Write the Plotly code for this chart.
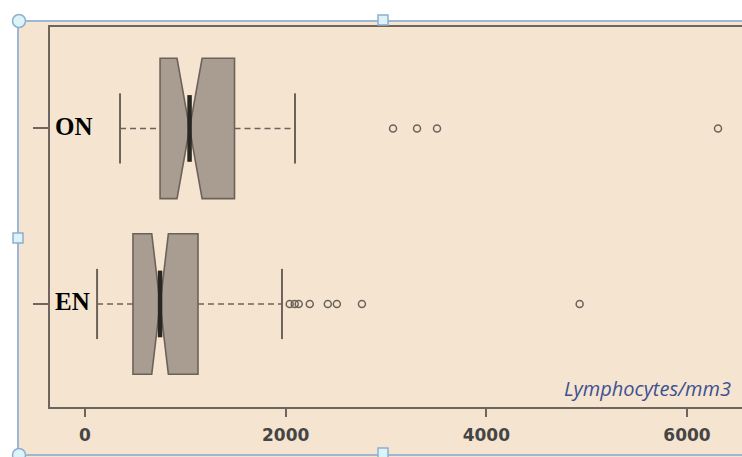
import plotly.graph_objects as go

# ---- data (Lymphocytes/mm3) ----
groups = ["EN", "ON"]
positions = [0, 1]
lower_whisker = [120, 349]
q1 = [478, 748]
median = [748, 1042]
q3 = [1126, 1490]
upper_whisker = [1963, 2093]
notch_span = [83, 125]
outliers_en = [2040, 2090, 2130, 2240, 2420, 2510, 2760, 4930]
outliers_on = [3070, 3309, 3508, 6309]
outliers = [outliers_en, outliers_on]
x_ticks = [0, 2000, 4000, 6000]
axis_title = "Lymphocytes/mm3"

PAGE_W, PAGE_H = 742, 457
W, H = PAGE_W, PAGE_H
PLOT_L, PLOT_T, PLOT_B = 50, 27, 407          # page pixels of plot area
L, T, B, R = PLOT_L, PLOT_T, PAGE_H - PLOT_B, 0
BOX_W = 0.8

PEACH = "#F5E4D0"
FILL = "#A99D91"
EDGE = "#6B635B"
AXIS = "#6E665E"

fig = go.Figure()

for i, g in enumerate(groups):
    p = positions[i]
    # notched box (whiskers drawn separately so they can be dashed)
    fig.add_trace(go.Box(
        y=[p], q1=[q1[i]], median=[median[i]], q3=[q3[i]],
        lowerfence=[q1[i]], upperfence=[q3[i]], notchspan=[notch_span[i]],
        orientation="h", notched=True, notchwidth=0.5, width=BOX_W,
        whiskerwidth=0, boxpoints=False,
        fillcolor=FILL, line=dict(color=EDGE, width=1.6),
        showlegend=False, hoverinfo="skip",
    ))
    # dashed whiskers
    fig.add_trace(go.Scatter(
        x=[lower_whisker[i], q1[i], None, q3[i], upper_whisker[i]],
        y=[p, p, None, p, p], mode="lines",
        line=dict(color=EDGE, width=1.5, dash="6px,4px"),
        showlegend=False, hoverinfo="skip",
    ))
    # staples
    for v in (lower_whisker[i], upper_whisker[i]):
        fig.add_trace(go.Scatter(
            x=[v, v], y=[p - BOX_W / 4, p + BOX_W / 4], mode="lines",
            line=dict(color=EDGE, width=2),
            showlegend=False, hoverinfo="skip",
        ))
    # thick median
    fig.add_trace(go.Scatter(
        x=[median[i], median[i]], y=[p - BOX_W / 4 + 0.01, p + BOX_W / 4 - 0.01],
        mode="lines", line=dict(color="#2A2622", width=4.5),
        showlegend=False, hoverinfo="skip",
    ))
    # outliers
    fig.add_trace(go.Scatter(
        x=outliers[i], y=[p] * len(outliers[i]), mode="markers",
        marker=dict(symbol="circle-open", size=7, color=EDGE,
                    line=dict(width=1.5, color=EDGE)),
        showlegend=False, hoverinfo="skip",
    ))


def px_x(px):  # page px -> paper
    return (px - PLOT_L) / (W - L - R)


def px_y(py):  # page px -> paper
    return (PLOT_B - py) / (H - T - B)


FRAME = "#9DB8D6"
shapes = [
    # peach image area (inside selection frame)
    dict(type="rect", xref="paper", yref="paper", layer="below",
         x0=px_x(18), x1=px_x(PAGE_W + 5), y0=px_y(PAGE_H + 5), y1=px_y(21),
         fillcolor=PEACH, line=dict(width=0)),
    # selection frame lines
    dict(type="line", xref="paper", yref="paper", x0=px_x(18), x1=px_x(PAGE_W + 5),
         y0=px_y(21), y1=px_y(21), line=dict(color=FRAME, width=2)),
    dict(type="line", xref="paper", yref="paper", x0=px_x(18), x1=px_x(18),
         y0=px_y(21), y1=px_y(PAGE_H + 5), line=dict(color=FRAME, width=2)),
    dict(type="line", xref="paper", yref="paper", x0=px_x(18), x1=px_x(PAGE_W + 5),
         y0=px_y(455), y1=px_y(455), line=dict(color=FRAME, width=2)),
]
for cx, cy in [(19, 21), (19, 455)]:
    shapes.append(dict(type="circle", xref="paper", yref="paper",
                       x0=px_x(cx - 6.5), x1=px_x(cx + 6.5),
                       y0=px_y(cy + 6.5), y1=px_y(cy - 6.5),
                       fillcolor="#DDF3FA", line=dict(color="#8FAFCF", width=1.5)))
for cx, cy in [(383, 20), (18, 238), (383, 453)]:
    shapes.append(dict(type="rect", xref="paper", yref="paper",
                       x0=px_x(cx - 5), x1=px_x(cx + 5),
                       y0=px_y(cy + 5), y1=px_y(cy - 5),
                       fillcolor="#DDF3FA", line=dict(color="#8FAFCF", width=1.5)))

annotations = [dict(
    text=axis_title, xref="paper", yref="paper",
    x=px_x(733), y=px_y(404), xanchor="right", yanchor="bottom",
    showarrow=False,
    font=dict(family="Open Sans", size=20, color="#3D5190", style="italic"),
)]
for i, g in enumerate(groups):
    annotations.append(dict(
        text=f"<b>{g}</b>", xref="paper", yref="y",
        x=px_x(53), y=positions[i] + 0.012, xanchor="left", yanchor="middle",
        showarrow=False,
        font=dict(family="Liberation Serif", size=25, color="black"),
    ))

fig.update_layout(
    width=W, height=H,
    margin=dict(l=L, r=R, t=T, b=B, pad=0),
    paper_bgcolor="white", plot_bgcolor=PEACH,
    shapes=shapes,
    annotations=annotations,
    showlegend=False,
    xaxis=dict(
        range=[-349, 6548], tickvals=x_ticks, ticktext=[str(v) for v in x_ticks],
        showgrid=False, zeroline=False,
        showline=True, linecolor=AXIS, linewidth=2, mirror=True,
        ticks="outside", ticklen=8, tickwidth=2, tickcolor=AXIS,
        ticklabelstandoff=4,
        tickfont=dict(family="DejaVu Sans", size=17, color="#454545", weight="bold"),
    ),
    yaxis=dict(
        range=[-0.587, 1.578], tickvals=positions, ticktext=["", ""],
        showgrid=False, zeroline=False,
        showline=True, linecolor=AXIS, linewidth=2,
        ticks="outside", ticklen=15, tickwidth=2, tickcolor=AXIS,
    ),
)

fig.write_html(
    "out.html",
    config={"displayModeBar": False},
    post_script="document.body.style.margin='0';document.body.style.overflow='hidden';",
)
